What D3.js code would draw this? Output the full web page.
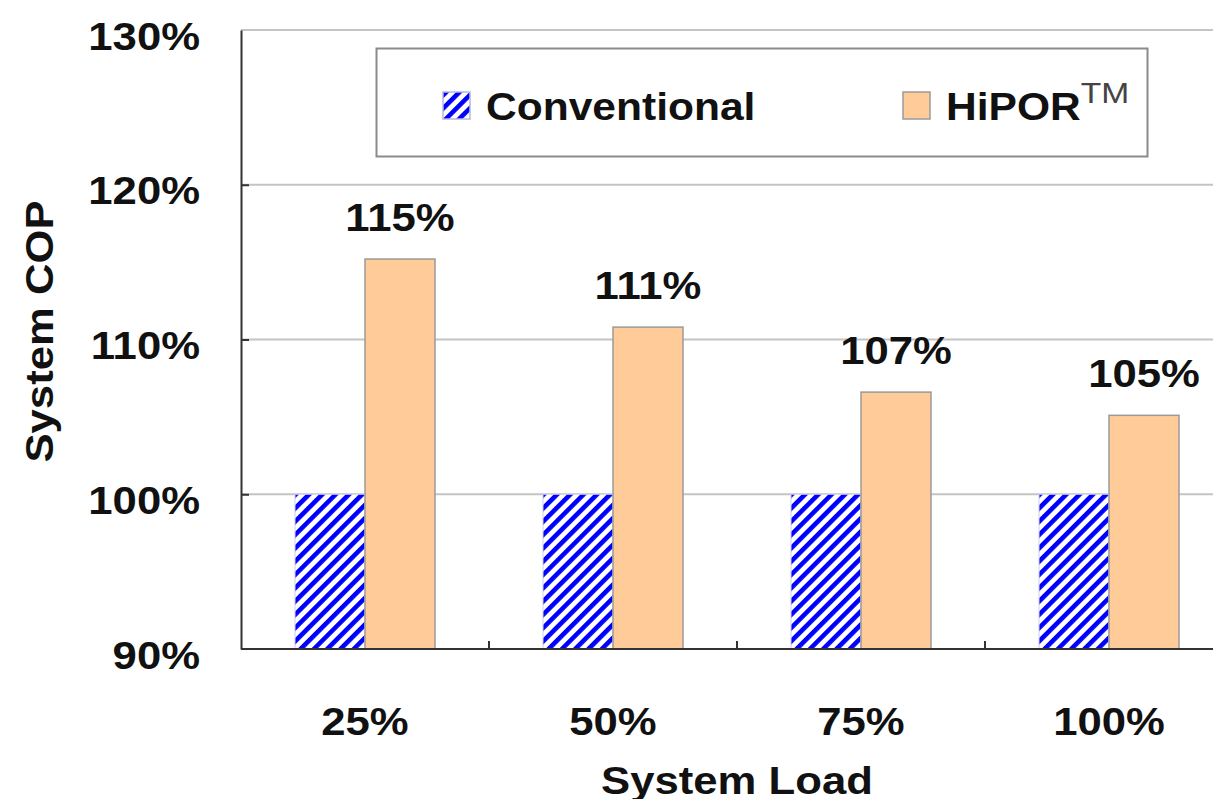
<!DOCTYPE html>
<html>
  <head>
    <script src="https://d3js.org/d3.v7.min.js"></script>
    <style>
      body { margin: 0; background: #fff; }
      svg { font-family: "Liberation Sans", Arial, sans-serif; font-weight: bold; }
      .grid line { stroke: #c4c4c4; stroke-width: 2; }
      .axis path, .axis line { stroke: #333; stroke-width: 2; }
    </style>
  </head>
  <body>
    <div id="chart"></div>
    <script>
// data
var categories = ["25%", "50%", "75%", "100%"];
var seriesNames = ["Conventional", "HiPOR"];
var conventional = [100, 100, 100, 100];
var hipor = [115.2, 110.8, 106.6, 105.1];
var hiporLabels = ["115%", "111%", "107%", "105%"];
var yTicks = [90, 100, 110, 120, 130];

var width = 1213, height = 799;
var plotLeft = 241, plotTop = 30, plotBottom = 649;
var step = 248;
var sx = 1.12;        // the source text is a bit wider than Arial
var fs = 39;

var svg = d3.select("#chart").append("svg")
  .attr("width", width)
  .attr("height", height);

var defs = svg.append("defs");
defs.append("pattern")
  .attr("id", "hatch")
  .attr("patternUnits", "userSpaceOnUse")
  .attr("width", 9.4)
  .attr("height", 20)
  .attr("patternTransform", "rotate(45)")
  .call(p => {
    p.append("rect").attr("width", 9.4).attr("height", 20).attr("fill", "#fff");
    p.append("rect").attr("width", 4.6).attr("height", 20).attr("fill", "#0000ff");
  });

/* Scales */
var x0 = d3.scaleBand()
  .domain(categories)
  .range([plotLeft, plotLeft + step * categories.length])
  .paddingInner(108 / 248)
  .paddingOuter(54 / 248);

var x1 = d3.scaleBand()
  .domain(seriesNames)
  .range([0, x0.bandwidth()]);

var y = d3.scaleLinear()
  .domain([90, 130])
  .range([plotBottom, plotTop]);

function stretch(sel, k) {
  sel.each(function() {
    var t = d3.select(this);
    var xv = +t.attr("x") || 0;
    t.attr("x", xv / k).attr("transform", "scale(" + k + ",1)");
  });
}

/* Gridlines */
svg.append("g")
  .attr("class", "grid")
  .selectAll("line")
  .data(yTicks.slice(1))
  .enter().append("line")
  .attr("x1", plotLeft)
  .attr("x2", width)
  .attr("y1", d => y(d))
  .attr("y2", d => y(d));

/* Bars */
var groups = svg.append("g").selectAll("g")
  .data(categories).enter()
  .append("g")
  .attr("transform", d => `translate(${x0(d)},0)`);

groups.append("rect")
  .attr("x", x1("Conventional"))
  .attr("width", x1.bandwidth())
  .attr("y", (d, i) => y(conventional[i]))
  .attr("height", (d, i) => plotBottom - y(conventional[i]))
  .attr("fill", "url(#hatch)")
  .attr("stroke", "#d0d0e8")
  .attr("stroke-width", 1);

groups.append("rect")
  .attr("x", x1("HiPOR"))
  .attr("width", x1.bandwidth())
  .attr("y", (d, i) => y(hipor[i]))
  .attr("height", (d, i) => plotBottom - y(hipor[i]))
  .attr("fill", "#ffcc99")
  .attr("stroke", "#9a9a9a")
  .attr("stroke-width", 1.5);

groups.append("text")
  .attr("text-anchor", "middle")
  .attr("font-size", fs)
  .attr("fill", "#111")
  .attr("x", x1("HiPOR") + x1.bandwidth() / 2)
  .attr("y", (d, i) => y(hipor[i]) - 28)
  .text((d, i) => hiporLabels[i])
  .call(stretch, sx);

/* Axes */
var yAxis = d3.axisLeft(y)
  .tickValues(yTicks)
  .tickFormat(d => d + "%")
  .tickSizeInner(-8)
  .tickSizeOuter(0)
  .tickPadding(41);

var gy = svg.append("g")
  .attr("class", "axis")
  .attr("transform", `translate(${plotLeft},0)`)
  .call(yAxis);
gy.selectAll("text")
  .attr("font-size", fs)
  .attr("font-family", null)
  .attr("fill", "#111")
  .attr("dy", "0.49em")
  .call(stretch, sx);
gy.selectAll(".tick line").filter(d => d == 90 || d == 130).remove();

var xAxis = d3.axisBottom(x0)
  .tickSize(0)
  .tickPadding(58);

var gx = svg.append("g")
  .attr("class", "axis")
  .attr("transform", `translate(0,${plotBottom})`)
  .call(xAxis);
gx.select(".domain").attr("d", `M${plotLeft},0H${width}`);
gx.selectAll("text")
  .attr("font-size", fs)
  .attr("font-family", null)
  .attr("fill", "#111")
  .call(stretch, sx);

// category boundary ticks, pointing up
gx.selectAll(".sep")
  .data(categories.slice(1))
  .enter().append("line")
  .attr("class", "sep")
  .attr("x1", d => x0(d) - x0.step() * x0.paddingInner() / 2)
  .attr("x2", d => x0(d) - x0.step() * x0.paddingInner() / 2)
  .attr("y1", 0)
  .attr("y2", -8);

/* Axis titles */
svg.append("text")
  .attr("text-anchor", "middle")
  .attr("font-size", fs)
  .attr("fill", "#111")
  .text("System Load")
  .attr("transform", `scale(${sx},1)`)
  .attr("x", (plotLeft + plotLeft + step * 4) / 2 / sx)
  .attr("y", 794);

svg.append("text")
  .attr("text-anchor", "middle")
  .attr("font-size", fs)
  .attr("fill", "#111")
  .attr("transform", `translate(53,${(plotTop + plotBottom) / 2 - 8}) rotate(-90) scale(${sx},1)`)
  .text("System COP");

/* Legend */
var legend = svg.append("g");
legend.append("rect")
  .attr("x", 376.5)
  .attr("y", 48.5)
  .attr("width", 771)
  .attr("height", 108)
  .attr("fill", "#fff")
  .attr("stroke", "#8a8a8a")
  .attr("stroke-width", 2);

var legendX = [443, 903];
var items = legend.selectAll(".item")
  .data(seriesNames).enter()
  .append("g")
  .attr("class", "item")
  .attr("transform", (d, i) => `translate(${legendX[i]},92)`);

items.append("rect")
  .attr("width", 27)
  .attr("height", 27)
  .attr("fill", (d, i) => i == 0 ? "url(#hatch)" : "#ffcc99")
  .attr("stroke", (d, i) => i == 0 ? "#b8b8d8" : "#9a9a9a")
  .attr("stroke-width", 1.5);

var lt = items.append("text")
  .attr("x", 43)
  .attr("y", 28)
  .attr("font-size", 38)
  .attr("fill", "#111")
  .text(d => d);
lt.filter(d => d == "HiPOR")
  .append("tspan")
  .attr("font-size", 30)
  .attr("font-weight", "normal")
  .attr("fill", "#444")
  .attr("dy", -17)
  .text("TM");
lt.call(stretch, sx);
    </script>
  </body>
</html>
